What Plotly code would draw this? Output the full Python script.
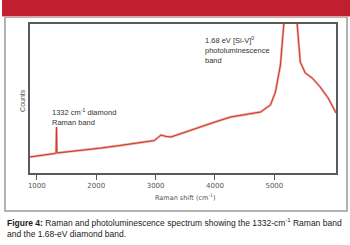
import plotly.graph_objects as go

# Spectrum data (Raman shift in cm^-1, counts in arbitrary units)
shift = [883, 1100, 1300, 1325, 1332, 1339, 1500, 1800, 2088, 2400, 2841, 2980,
         3092, 3180, 3260, 3500, 3762, 4000, 4264, 4450, 4600, 4767, 4934, 5018,
         5102, 5152, 5220, 5285, 5340, 5385, 5436, 5520, 5637, 5771, 5905, 6005, 6039]
counts = [16, 17.5, 19.5, 20, 46, 20, 21, 23, 25, 27.5, 31, 32.5,
          38, 36.5, 36, 41, 46, 51, 56, 58, 59, 61, 68, 81,
          108, 138, 190, 240, 200, 148, 111, 100, 95, 86, 75, 63, 60]

tick_vals = [1000, 2000, 3000, 4000, 5000]
tick_text = ["1000", "2000", "3000", "4000", "5000"]

W, H = 350, 245
L, R, T, B = 28, 336, 24, 173
FONT = "Liberation Sans Narrow, Arial Narrow, Liberation Sans, sans-serif"
TFONT = "DejaVu Sans, sans-serif"

fig = go.Figure()
fig.add_trace(go.Scatter(x=shift, y=counts, mode="lines",
                         line=dict(color="#eea89e", width=2.4), hoverinfo="skip"))
fig.add_trace(go.Scatter(x=shift, y=counts, mode="lines",
                         line=dict(color="#c8382c", width=1.0), hoverinfo="skip"))

fig.update_layout(
    width=W, height=H,
    margin=dict(l=0, r=0, t=0, b=0),
    paper_bgcolor="white", plot_bgcolor="white",
    showlegend=False,
    font=dict(family=FONT, size=7, color="#444"),
    xaxis=dict(domain=[L / W, R / W], range=[883, 6039],
               tickvals=tick_vals, ticktext=tick_text,
               ticks="outside", ticklen=5, tickwidth=1, tickcolor="#555",
               tickfont=dict(size=7, color="#555", family=TFONT),
               showline=True, linecolor="#5a5a5a", linewidth=2, mirror=True,
               showgrid=False, zeroline=False, fixedrange=True),
    yaxis=dict(domain=[1 - B / H, 1 - T / H], range=[0, 149],
               showticklabels=False, ticks="",
               showline=True, linecolor="#5a5a5a", linewidth=2, mirror=True,
               showgrid=False, zeroline=False, fixedrange=True),
    shapes=[
        dict(type="rect", xref="paper", yref="paper", x0=0, x1=1,
             y0=1 - 16 / H, y1=1, fillcolor="#bf1f2f", line=dict(width=0), layer="below"),
        dict(type="line", xref="paper", yref="paper", x0=0, x1=1,
             y0=1 - 16.5 / H, y1=1 - 16.5 / H, line=dict(color="#e8a0a0", width=1)),
        dict(type="rect", xref="paper", yref="paper", x0=3 / W, x1=347 / W,
             y0=1 - 211 / H, y1=1 - 17 / H, line=dict(color="#9a9a9a", width=1.5),
             fillcolor="rgba(0,0,0,0)", layer="below"),
    ],
    annotations=[
        dict(text="1332 cm<sup>-1</sup> diamond<br>Raman band", x=48 / W, y=1 - 105 / H,
             xref="paper", yref="paper", xanchor="left", yanchor="top", align="left",
             showarrow=False, font=dict(size=7.5, color="#333", family=FONT)),
        dict(text="1.68 eV [Si-V]<sup>0</sup><br>photoluminescence<br>band", x=202 / W, y=1 - 33 / H,
             xref="paper", yref="paper", xanchor="left", yanchor="top", align="left",
             showarrow=False, font=dict(size=7.5, color="#333", family=FONT)),
        dict(text="Counts", x=20 / W, y=1 - 100 / H, xref="paper", yref="paper",
             xanchor="center", yanchor="middle",
             textangle=-90, showarrow=False, font=dict(size=7, color="#555", family=FONT)),
        dict(text="Raman shift (cm<sup>-1</sup>)", x=185 / W, y=1 - 197 / H,
             xref="paper", yref="paper", xanchor="center", yanchor="middle", showarrow=False,
             font=dict(size=6.5, color="#555", family=TFONT)),
        dict(text="<b>Figure 4:</b> Raman and photoluminescence spectrum showing the 1332-cm<sup>-1</sup> Raman band<br>and the 1.68-eV diamond band.",
             x=3 / W, y=1 - 215 / H, xref="paper", yref="paper", xanchor="left", yanchor="top",
             align="left", showarrow=False, font=dict(size=8.5, color="#222", family=FONT)),
    ],
)

fig.write_html("out.html")
